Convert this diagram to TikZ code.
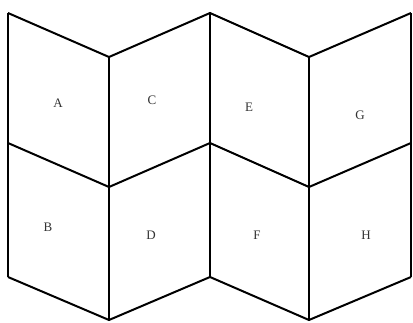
\documentclass[tikz,border=0pt]{standalone}
\usepackage{fontspec}
\setmainfont{Liberation Serif}
\begin{document}
\begin{tikzpicture}[x=1pt,y=-1pt,
  fold/.style={line width=2pt, line join=miter, black},
  lbl/.style={font=\fontsize{13}{13}\selectfont, text=black!80, inner sep=0pt}]
\path[use as bounding box] (0,0) rectangle (413,322);
% corner coordinates
\coordinate (t1) at (8,13);   \coordinate (t2) at (109,57);  \coordinate (t3) at (210,13);
\coordinate (t4) at (309,57); \coordinate (t5) at (411,13);
\coordinate (m1) at (8,143);  \coordinate (m2) at (109,187); \coordinate (m3) at (210,143);
\coordinate (m4) at (309,187);\coordinate (m5) at (411,143);
\coordinate (b1) at (8,277);  \coordinate (b2) at (109,320); \coordinate (b3) at (210,277);
\coordinate (b4) at (309,320);\coordinate (b5) at (411,277);
% zigzag lines
\draw[fold] (t1) -- (t2) -- (t3) -- (t4) -- (t5);
\draw[fold] (m1) -- (m2) -- (m3) -- (m4) -- (m5);
\draw[fold] (b1) -- (b2) -- (b3) -- (b4) -- (b5);
% verticals
\foreach \i in {1,...,5} { \draw[fold] (t\i) -- (b\i); }
% labels
\node[lbl] (A) at (58,103) {A};
\node[lbl] (C) at (152,100) {C};
\node[lbl] (E) at (249,107) {E};
\node[lbl] (G) at (360,115) {G};
\node[lbl] (B) at (48,227) {B};
\node[lbl] (D) at (151,235) {D};
\node[lbl] (F) at (257,235) {F};
\node[lbl] (H) at (366,235) {H};
\end{tikzpicture}
\end{document}
